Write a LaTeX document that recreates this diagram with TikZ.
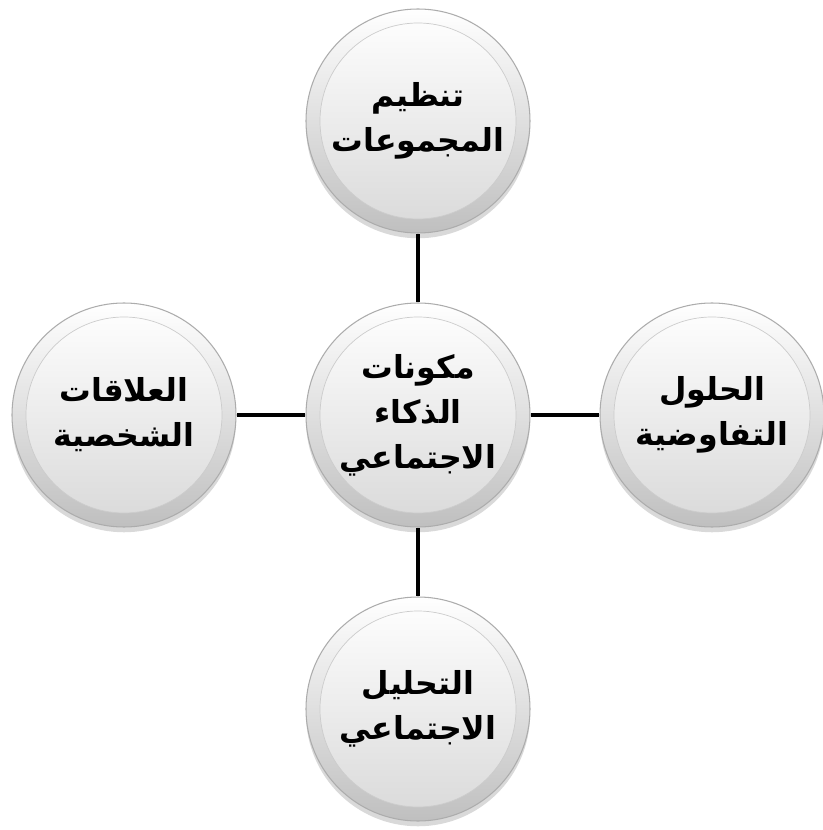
\documentclass[tikz,border=0pt]{standalone}
\usepackage{fontspec}
\newfontfamily\arabicfont[Script=Arabic]{DejaVu Sans}
\TeXXeTstate=1
\usepackage{tikz}
\usetikzlibrary{positioning,shapes,shadows,arrows}
\newcommand{\rtl}[1]{\beginR#1\endR}

\tikzset{
  bubble/.style={circle, minimum size=4.48cm, inner sep=0pt, draw=gray!65, line width=0.6pt,
    top color=white, bottom color=gray!50,
    drop shadow={shadow xshift=0pt, shadow yshift=-3pt, opacity=0.3},
    path picture={\shade[top color=white, middle color=gray!12, bottom color=gray!30, draw=gray!40, line width=0.4pt]
      (path picture bounding box.center) circle (1.96cm);},
    font=\arabicfont\bfseries\fontsize{18}{25.6}\selectfont, align=center, text=black}
}

\begin{document}
\begin{tikzpicture} [-,auto,node distance=5.88cm,line width=2.6pt]
  \useasboundingbox (-8.36,8.30) rectangle (8.08,-8.30);

  \node[bubble] (c) at (0,0) {\rtl{مكونات}\\ \rtl{الذكاء}\\ \rtl{الاجتماعي}};
  \node[bubble] (t) [above of=c] {\rtl{تنظيم}\\ \rtl{المجموعات}};
  \node[bubble] (r) [right of=c] {\rtl{الحلول}\\ \rtl{التفاوضية}};
  \node[bubble] (b) [below of=c] {\rtl{التحليل}\\ \rtl{الاجتماعي}};
  \node[bubble] (l) [left of=c] {\rtl{العلاقات}\\ \rtl{الشخصية}};

  \path
    (c) edge (t)
        edge (r)
        edge (b)
        edge (l);
\end{tikzpicture}
\end{document}
